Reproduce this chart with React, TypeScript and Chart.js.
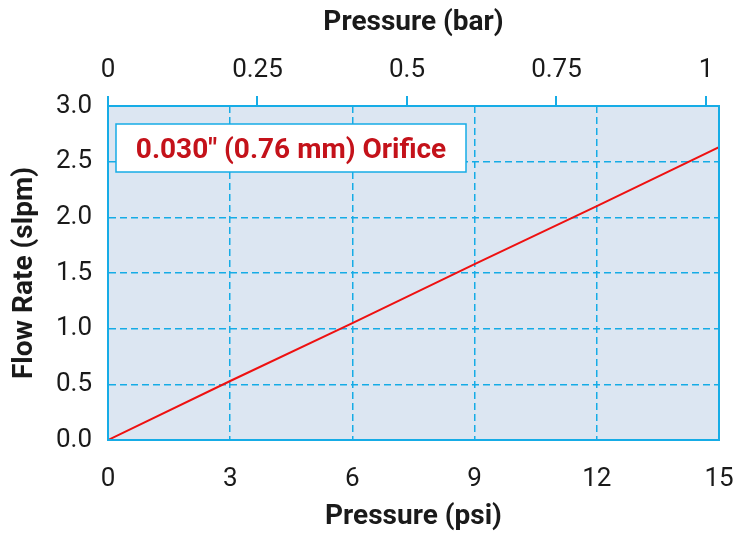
import React, { useEffect, useRef } from "react";
import { Chart, registerables } from "chart.js";

Chart.register(...registerables);

// ---- data ----
const psiValues = [0, 3, 6, 9, 12, 15];
const flowValues = [0, 0.53, 1.05, 1.58, 2.1, 2.63];
const psiTicks = [0, 3, 6, 9, 12, 15];
const barTicks = [0, 0.25, 0.5, 0.75, 1];
const barTickLabels = ["0", "0.25", "0.5", "0.75", "1"];
const flowTicks = [0, 0.5, 1, 1.5, 2, 2.5, 3];
const psiPerBar = 14.68;
const legendText = '0.030" (0.76 mm) Orifice';
const xTitle = "Pressure (psi)";
const x2Title = "Pressure (bar)";
const yTitle = "Flow Rate (slpm)";

const CYAN = "#16ace6";
const PLOT_BG = "#dce6f2";
const LINE_RED = "#ee1111";
const TEXT_RED = "#c4121a";
const FONT = "Roboto, 'DejaVu Sans', sans-serif";

const plotDecor = {
  id: "plotDecor",
  beforeDraw(chart: any) {
    const { ctx, chartArea: a } = chart;
    ctx.save();
    ctx.fillStyle = PLOT_BG;
    ctx.fillRect(a.left, a.top, a.right - a.left, a.bottom - a.top);
    ctx.restore();
  },
  afterDraw(chart: any) {
    const { ctx, chartArea: a } = chart;
    ctx.save();
    ctx.strokeStyle = CYAN;
    ctx.lineWidth = 2;
    ctx.strokeRect(a.left, a.top, a.right - a.left, a.bottom - a.top);
    // legend box
    const bx = a.left + 8;
    const by = a.top + 18;
    const bw = 350;
    const bh = 48;
    ctx.fillStyle = "#ffffff";
    ctx.fillRect(bx, by, bw, bh);
    ctx.lineWidth = 1.5;
    ctx.strokeRect(bx, by, bw, bh);
    ctx.fillStyle = TEXT_RED;
    ctx.font = `bold 28px ${FONT}`;
    ctx.textAlign = "center";
    ctx.textBaseline = "middle";
    ctx.fillText(legendText, bx + bw / 2, by + bh / 2 + 3);
    ctx.restore();
  },
};

const zeroPad = (s: any) => {
  s.paddingLeft = 0;
  s.paddingRight = 0;
  s.paddingTop = 0;
  s.paddingBottom = 0;
};

export default function App() {
  const ref = useRef<HTMLCanvasElement | null>(null);

  useEffect(() => {
    if (!ref.current) return;
    const chart = new Chart(ref.current, {
      type: "line",
      data: {
        datasets: [
          {
            data: psiValues.map((x, i) => ({ x, y: flowValues[i] })),
            borderColor: LINE_RED,
            borderWidth: 2,
            pointRadius: 0,
            tension: 0,
            fill: false,
          },
        ],
      },
      options: {
        responsive: false,
        animation: false,
        parsing: false as any,
        layout: { padding: { right: 22, left: 0, top: 0, bottom: 0 } },
        plugins: { legend: { display: false }, tooltip: { enabled: false } },
        scales: {
          x: {
            type: "linear",
            position: "bottom",
            min: 0,
            max: 15,
            afterBuildTicks: (s: any) => {
              s.ticks = psiTicks.map((v) => ({ value: v }));
            },
            ticks: {
              font: { family: FONT, size: 26 },
              color: "#1a1a1a",
              padding: 24,
              maxRotation: 0,
            },
            grid: {
              drawTicks: false,
              color: (c: any) =>
                c.tick && (c.tick.value === 0 || c.tick.value === 15) ? "rgba(0,0,0,0)" : CYAN,
              lineWidth: 1.5,
            },
            border: { display: true, color: CYAN, width: 2, dash: [7, 4] },
            title: {
              display: true,
              text: xTitle,
              font: { family: FONT, size: 28, weight: "bold" },
              color: "#1a1a1a",
              padding: { top: 0, bottom: 0 },
            },
            afterFit: (s: any) => {
              s.height = 94;
              zeroPad(s);
            },
          } as any,
          x2: {
            type: "linear",
            position: "top",
            min: 0,
            max: 15 / psiPerBar,
            afterBuildTicks: (s: any) => {
              s.ticks = barTicks.map((v) => ({ value: v }));
            },
            ticks: {
              font: { family: FONT, size: 26 },
              color: "#1a1a1a",
              padding: 10,
              maxRotation: 0,
              callback: (v: any) => {
                const i = barTicks.indexOf(Number(v));
                return i >= 0 ? barTickLabels[i] : "";
              },
            },
            grid: {
              drawOnChartArea: false,
              drawTicks: true,
              tickLength: 10,
              color: CYAN,
              lineWidth: 2,
            },
            border: { display: true, color: CYAN, width: 2 },
            title: {
              display: true,
              text: x2Title,
              font: { family: FONT, size: 28, weight: "bold" },
              color: "#1a1a1a",
              padding: { top: 6, bottom: 0 },
            },
            afterFit: (s: any) => {
              s.height = 106;
              zeroPad(s);
            },
          } as any,
          y: {
            type: "linear",
            position: "left",
            min: 0,
            max: 3,
            afterBuildTicks: (s: any) => {
              s.ticks = flowTicks.map((v) => ({ value: v }));
            },
            ticks: {
              font: { family: FONT, size: 26 },
              color: "#1a1a1a",
              padding: 16,
              callback: (v: any) => Number(v).toFixed(1),
            },
            grid: {
              drawTicks: false,
              color: (c: any) =>
                c.tick && (c.tick.value === 0 || c.tick.value === 3) ? "rgba(0,0,0,0)" : CYAN,
              lineWidth: 1.5,
            },
            border: { display: true, color: CYAN, width: 2, dash: [7, 4] },
            title: {
              display: true,
              text: yTitle,
              font: { family: FONT, size: 28, weight: "bold" },
              color: "#1a1a1a",
              padding: { top: 8, bottom: 0 },
            },
            afterFit: (s: any) => {
              s.width = 108;
              zeroPad(s);
            },
          } as any,
        },
      },
      plugins: [plotDecor],
    });
    return () => chart.destroy();
  }, []);

  return (
    <div style={{ position: "absolute", left: 0, top: 0, width: 741, height: 534 }}>
      <canvas ref={ref} width={741} height={534} style={{ width: 741, height: 534, display: "block" }} />
    </div>
  );
}
